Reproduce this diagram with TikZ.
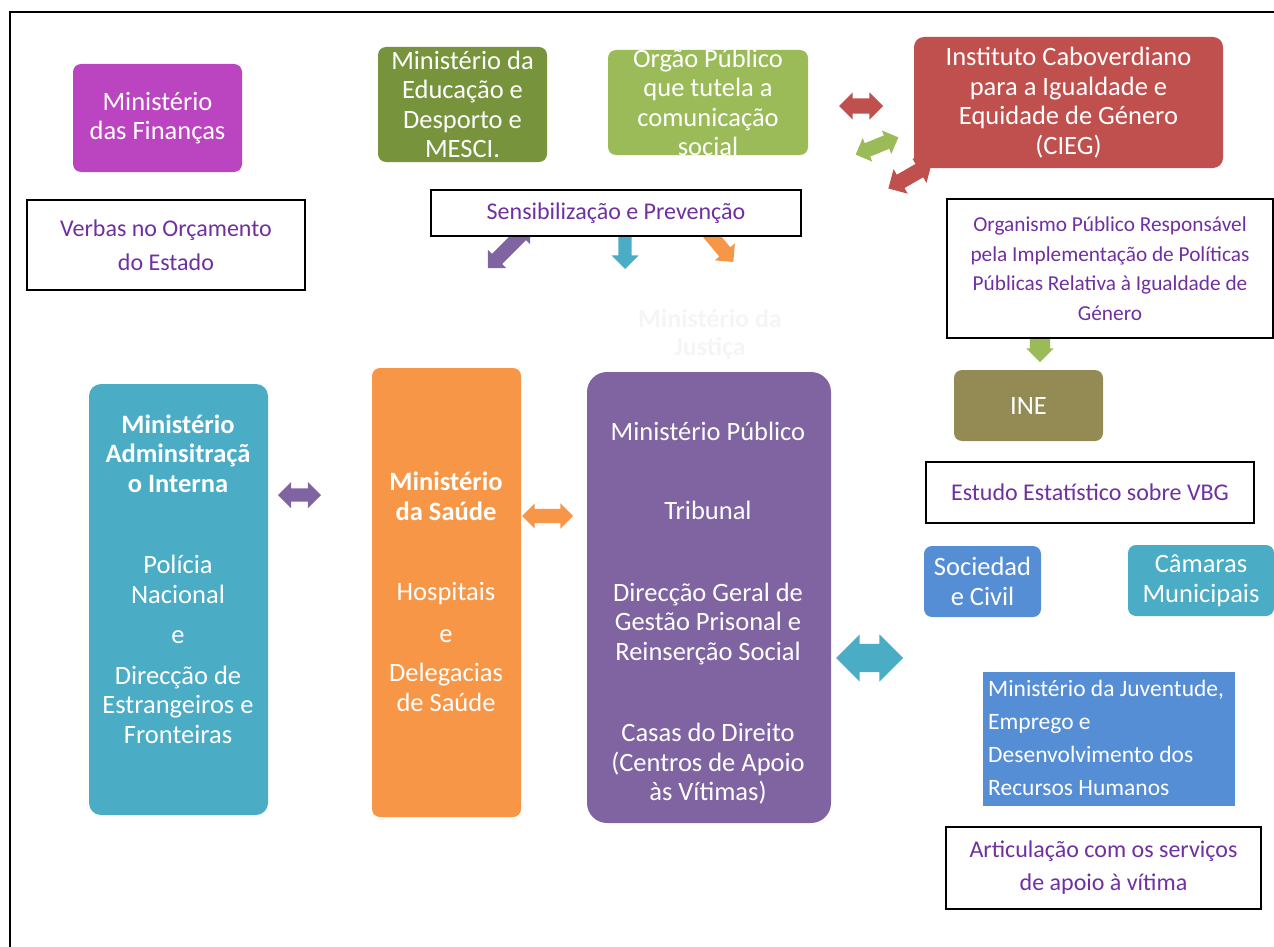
\documentclass[tikz,border=0pt]{standalone}
\usepackage{fontspec}
\setmainfont{Carlito}
\usetikzlibrary{shapes.arrows}

\definecolor{finCol}{RGB}{187,69,192}
\definecolor{eduCol}{RGB}{119,147,60}
\definecolor{orgCol}{RGB}{155,187,89}
\definecolor{ciegCol}{RGB}{192,80,77}
\definecolor{ineCol}{RGB}{148,138,84}
\definecolor{socCol}{RGB}{85,142,213}
\definecolor{camCol}{RGB}{75,172,198}
\definecolor{sauCol}{RGB}{247,150,70}
\definecolor{jusCol}{RGB}{128,100,162}
\definecolor{txtCol}{RGB}{112,48,160}

\begin{document}
\begin{tikzpicture}[x=1pt,y=-1pt,
	box/.style={rounded corners=8pt, inner xsep=0pt, inner ysep=-40pt, text=white, align=center, font=\fontsize{26.5}{29.5}\selectfont},
	wbox/.style={draw=black, line width=1.1pt, fill=white, inner xsep=0pt, inner ysep=-40pt, text=txtCol, align=center},
	wtext/.style={inner sep=0pt, text=white, align=center, font=\fontsize{26.5}{29.5}\selectfont},
	dblarrow/.style={double arrow, draw=none, inner xsep=0pt},
	sglarrow/.style={single arrow, draw=none, inner xsep=0pt}]
	\useasboundingbox (0,0) rectangle (1274,947);
	\draw[line width=1.5pt] (10,947) -- (10,12) -- (1274,12);

	% arrows (drawn first, boxes hide their ends)
	\node[dblarrow, fill=jusCol, minimum height=43pt, inner ysep=6.5pt, double arrow head extend=6.5pt] (aPur) at (299.5,495) {};
	\node[dblarrow, fill=sauCol, minimum height=51pt, inner ysep=7pt, double arrow head extend=5.5pt] (aOra) at (547.5,516) {};
	\node[dblarrow, fill=camCol, minimum height=67pt, inner ysep=14pt, double arrow head extend=9.5pt] (aTea) at (869.5,658) {};
	\node[dblarrow, fill=ciegCol, minimum height=44pt, inner ysep=7.5pt, double arrow head extend=6pt] (aRed) at (861,106) {};
	\node[dblarrow, fill=orgCol, minimum height=46pt, inner ysep=7pt, double arrow head extend=5.5pt, rotate=22] (aGrn) at (877,146) {};
	\node[dblarrow, fill=ciegCol, minimum height=50pt, inner ysep=7.5pt, double arrow head extend=6.5pt, rotate=30] (aRedB) at (910,176) {};
	\node[dblarrow, fill=jusCol, minimum height=60pt, inner ysep=7pt, double arrow head extend=6pt, rotate=45] (aPurB) at (509,247) {};
	\node[dblarrow, fill=camCol, minimum height=60pt, inner ysep=6.5pt, double arrow head extend=7pt, rotate=90] (aTeaB) at (625,239) {};
	\node[dblarrow, fill=sauCol, minimum height=60pt, inner ysep=7pt, double arrow head extend=6pt, rotate=-50] (aOraB) at (714,239) {};
	\node[sglarrow, fill=orgCol, minimum height=24pt, inner ysep=10pt, single arrow head extend=3.5pt, rotate=-90] (aGrnB) at (1040,345) {};

	% top row
	\node[box, fill=finCol, minimum width=169pt, minimum height=108pt] (fin) at (157.5,118) {Ministério\\das Finanças};
	\node[box, fill=eduCol, minimum width=169pt, minimum height=115pt] (edu) at (462.5,104.5) {Ministério da\\Educação e\\Desporto e\\MESCI.};
	\node[box, fill=orgCol, minimum width=200pt, minimum height=105pt] (org) at (708,102.5) {Orgão Público\\que tutela a\\comunicação\\social};
	\node[box, fill=ciegCol, rounded corners=10pt, minimum width=309pt, minimum height=131pt] (cieg) at (1068.5,102.5) {Instituto Caboverdiano\\para a Igualdade e\\Equidade de Género\\(CIEG)};

	% white boxes
	\node[wbox, font=\fontsize{24}{34}\selectfont, minimum width=278pt, minimum height=90pt] (verb) at (166,245) {Verbas no Orçamento\\do Estado};
	\node[wbox, font=\fontsize{24}{29.5}\selectfont, minimum width=370pt, minimum height=46pt] (sens) at (616,213) {Sensibilização e Prevenção};
	\node[wbox, font=\fontsize{21.3}{29.5}\selectfont, minimum width=326pt, minimum height=139pt] (orgn) at (1110,268.5) {Organismo Público Responsável\\pela Implementação de Políticas\\Públicas Relativa à Igualdade de\\Género};
	\node[wbox, font=\fontsize{24}{29.5}\selectfont, minimum width=328pt, minimum height=61pt] (est) at (1090,492.5) {Estudo Estatístico sobre VBG};
	\node[wbox, font=\fontsize{24}{33}\selectfont, minimum width=315pt, minimum height=82pt] (art) at (1103.5,868) {Articulação com os serviços\\de apoio à vítima};

	% right column
	\node[box, fill=ineCol, minimum width=149pt, minimum height=71pt] (ine) at (1028.5,405.5) {INE};
	\node[box, fill=socCol, minimum width=117pt, minimum height=71pt] (soc) at (982.5,581.5) {Sociedad\\e Civil};
	\node[box, fill=camCol, minimum width=146pt, minimum height=71pt] (cam) at (1201,580.5) {Câmaras\\Municipais};
	\node[box, fill=socCol, rounded corners=0pt, minimum width=252pt, minimum height=134pt] (juv) at (1109,739) {};
	\node[wtext, align=left, anchor=west, font=\fontsize{23.5}{33}\selectfont] (juvTxt) at (988,738) {Ministério da Juventude,\\Emprego e\\Desenvolvimento dos\\Recursos Humanos};

	% tall boxes
	\node[text=black!4, inner sep=0pt, align=center, font=\fontsize{26}{28}\selectfont\bfseries] (jusHdr) at (710,335) {Ministério da\\Justiça};
	\node[box, fill=camCol, rounded corners=12pt, minimum width=179pt, minimum height=431pt] (adm) at (178.5,599.5) {};
	\node[box, fill=sauCol, minimum width=149pt, minimum height=449pt] (sau) at (446.5,592.5) {};
	\node[box, fill=jusCol, rounded corners=20pt, minimum width=244pt, minimum height=451pt] (jus) at (709,597.5) {};
	\node[wtext] (admTxt) at (178,579) {\textbf{Ministério}\\\textbf{Adminsitraçã}\\\textbf{o Interna}\\[52pt]Polícia\\Nacional\\[11pt]e\\[11pt]Direcção de\\Estrangeiros e\\Fronteiras};
	\node[wtext] (sauTxt) at (446,592) {\textbf{Ministério}\\\textbf{da Saúde}\\[51pt]Hospitais\\[12pt]e\\[10pt]Delegacias\\de Saúde};
	\node[wtext] (jusTxt) at (708,613) {Ministério Público\\[50pt]Tribunal\\[52pt]Direcção Geral de\\Gestão Prisonal e\\Reinserção Social\\[52pt]Casas do Direito\\(Centros de Apoio\\às Vítimas)};
\end{tikzpicture}
\end{document}
